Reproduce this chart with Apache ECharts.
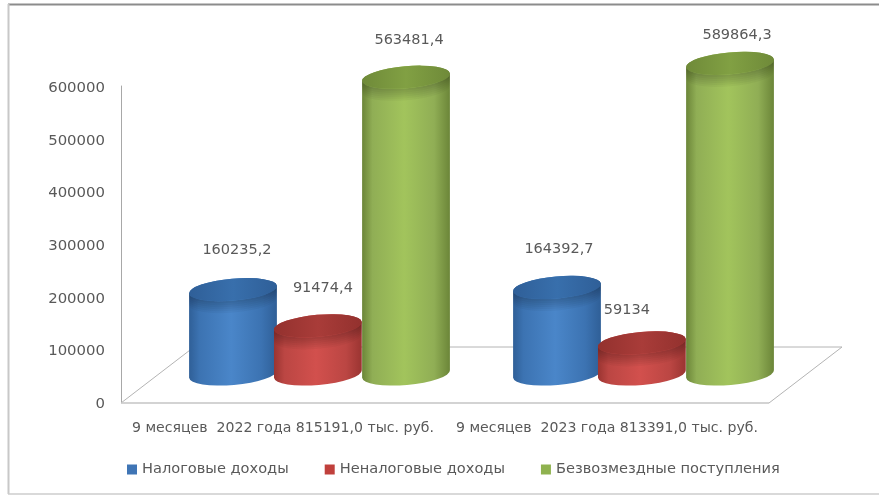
<!DOCTYPE html>
<html>
<head>
<meta charset="utf-8">
<style>html,body{margin:0;padding:0;background:#fff}#c{width:879px;height:496px}</style>
<script src="https://cdn.jsdelivr.net/npm/echarts@6/dist/echarts.min.js"></script>
</head>
<body>
<div id="c"></div>
<script>
const categories = ['9 месяцев  2022 года 815191,0 тыс. руб.', '9 месяцев  2023 года 813391,0 тыс. руб.'];
const seriesNames = ['Налоговые доходы', 'Неналоговые доходы', 'Безвозмездные поступления'];
const taxIncome = [160235.2, 164392.7];
const nonTaxIncome = [91474.4, 59134];
const grants = [563481.4, 589864.3];
const yTicks = [0, 100000, 200000, 300000, 400000, 500000, 600000];

const FONT = '"DejaVu Sans"';
const TXT = '#595959';
// 3D look: floor depth in px, cylinder geometry
const DEPTH_X = 73, DEPTH_Y = 56;
const BAR_W = 0.272, TILT = 5 * Math.PI / 180, RY = 11;
const palettes = [
  {edge:'#2f5f97', mid:'#4a86c9', soft:'#3c73b2', top:['#2f5f98','#386fac','#2f5f98'], legend:'#3f75b5'},
  {edge:'#9a3431', mid:'#d2504d', soft:'#bb4643', top:['#93312e','#a93c39','#93312e'], legend:'#c0403c'},
  {edge:'#6b8538', mid:'#a2c45c', soft:'#90ae55', top:['#6f8a39','#81a043','#6f8a39'], legend:'#8fb24f'}
];
const barOffsets = [-0.267, -0.005, 0.267];
// label nudges from the top of each cylinder [dx, dy] per series, per category
const labelNudges = [
  [[4,-39],[2,-38]],
  [[5,-38],[-15,-33]],
  [[3,-37],[7,-28]]
];
const fmt = v => String(v).replace('.', ',');

function grad(stops){
  return {type:'linear',x:0,y:0,x2:1,y2:0,colorStops:stops.map(s=>({offset:s[0],color:s[1]}))};
}

function cylinder(si){
  const p = palettes[si];
  return function(params, api){
    const cat = api.value(0), val = api.value(1);
    const band = api.size([1,0])[0];
    const base0 = api.coord([cat,0]);
    const top0 = api.coord([cat,val]);
    const cx = base0[0] + DEPTH_X/2 + barOffsets[si]*band;
    const by = base0[1] - DEPTH_Y/2;
    const ty = top0[1] - DEPTH_Y/2;
    const rx = BAR_W*band/2;
    const dx = rx*Math.cos(TILT), dy = rx*Math.sin(TILT);
    const deg = -TILT*180/Math.PI;
    const arc = (x,y,sw)=>`A ${rx} ${RY} ${deg} 0 ${sw||0} ${x} ${y}`;
    const body = `M ${cx-dx} ${ty+dy} L ${cx-dx} ${by+dy} ${arc(cx+dx,by-dy)} L ${cx+dx} ${ty-dy} ${arc(cx-dx,ty+dy)} Z`;
    const cap = `M ${cx-dx} ${ty+dy} ${arc(cx+dx,ty-dy)} ${arc(cx-dx,ty+dy)} Z`;
    const crescents = [2,4,6,8,10,12].map(h => ({
      type:'path',
      shape:{pathData:`M ${cx-dx} ${ty+dy} ${arc(cx+dx,ty-dy)} L ${cx+dx} ${ty-dy+h} ${arc(cx-dx,ty+dy+h,1)} Z`},
      style:{fill:'rgba(0,0,0,0.035)'}
    }));
    const n = labelNudges[si][cat];
    return {
      type:'group',
      children:[
        {type:'path',shape:{pathData:body},
          style:{fill:grad([[0,p.edge],[0.12,p.soft],[0.48,p.mid],[0.82,p.soft],[1,p.edge]])}},
        ...crescents,
        {type:'path',shape:{pathData:cap},
          style:{fill:grad([[0,p.top[0]],[0.5,p.top[1]],[1,p.top[2]]])}},
        {type:'text',z2:10,style:{x:cx+n[0],y:ty+n[1],text:fmt(val),align:'center',verticalAlign:'middle',
          fill:TXT,font:'14.5px '+FONT}}
      ]
    };
  };
}

function floor(params, api){
  const g = params.coordSys;
  const b = g.y + g.height + 1;
  const style = {stroke:'#b4b4b4',lineWidth:1,fill:null};
  return {type:'group',children:[
    {type:'polyline',shape:{points:[[g.x,b],[g.x+DEPTH_X,b-DEPTH_Y],[g.x+g.width+DEPTH_X,b-DEPTH_Y],[g.x+g.width,b]]},style:style},
    {type:'line',shape:{x1:g.x,y1:b,x2:g.x+g.width,y2:b},style:{stroke:'#c4c4c4',lineWidth:1.5}}
  ]};
}

const chart = echarts.init(document.getElementById('c'), null, {renderer:'canvas'});
const seriesValues = [taxIncome, nonTaxIncome, grants];
chart.setOption({
  animation:false,
  backgroundColor:'#fff',
  textStyle:{fontFamily:FONT},
  grid:{left:121,top:86,width:648,height:316},
  graphic:[
    {type:'line',silent:true,z:-1,shape:{x1:8,y1:4.5,x2:879,y2:4.5},style:{stroke:'#8c8c8c',lineWidth:2}},
    {type:'line',silent:true,z:-1,shape:{x1:8.5,y1:4,x2:8.5,y2:494},style:{stroke:'#c8c8c8',lineWidth:2}},
    {type:'line',silent:true,z:-1,shape:{x1:8,y1:494,x2:879,y2:494},style:{stroke:'#cdcdcd',lineWidth:1.5}}
  ],
  legend:{
    data:seriesNames,left:122,top:457,itemWidth:10,itemHeight:10,itemGap:36,icon:'rect',
    textStyle:{color:TXT,fontSize:14.6,fontFamily:FONT,padding:[0,0,0,0]}
  },
  xAxis:{type:'category',data:categories,axisTick:{show:false},
    axisLine:{show:false},
    axisLabel:{color:TXT,fontSize:14.1,fontFamily:FONT,margin:19,interval:0}},
  yAxis:{type:'value',min:0,max:600000,interval:100000,
    axisTick:{show:false},splitLine:{show:false},
    axisLine:{show:true,lineStyle:{color:'#a8a8a8',width:1}},
    axisLabel:{color:TXT,fontSize:14.9,fontFamily:FONT,margin:16,verticalAlign:'top',lineHeight:4,
      formatter:v=>String(yTicks[yTicks.indexOf(v)])}},
  series:[
    {type:'custom',name:'floor',renderItem:floor,silent:true,z:1,data:[[0,0]],encode:{x:0,y:1},tooltip:{show:false}},
    ...seriesNames.map((name,si)=>({
      type:'custom',name:name,z:2+si,renderItem:cylinder(si),
      itemStyle:{color:palettes[si].legend},
      encode:{x:0,y:1},
      data:seriesValues[si].map((v,i)=>[i,v])
    }))
  ]
});
</script>
</body>
</html>
